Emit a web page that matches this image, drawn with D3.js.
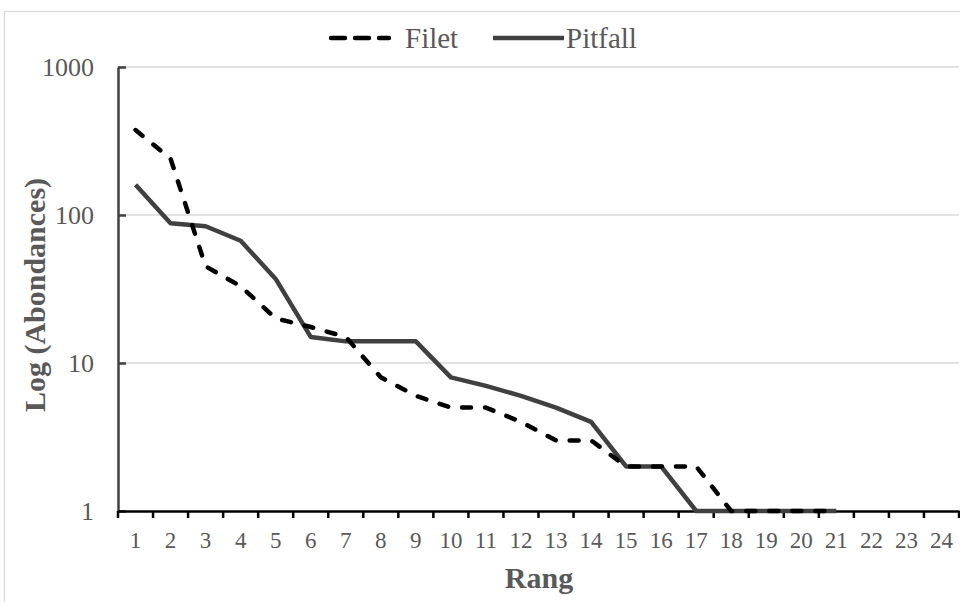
<!DOCTYPE html>
<html><head><meta charset="utf-8">
<script src="https://cdn.jsdelivr.net/npm/d3@7"></script>
<style>
body{margin:0;background:#fff}svg{display:block}
text{font-family:"Liberation Serif","Times New Roman",Times,Tinos,"DejaVu Serif",serif}
</style>
</head><body>
<svg id="c" width="960" height="602"></svg>
<script>
const ranks = d3.range(1, 25).map(String);
const filet = [375, 240, 45, 33, 20, 17.5, 15, 8, 6, 5, 5, 4, 3, 3, 2, 2, 2, 1, 1, 1, 1];
const pitfall = [160, 88, 84, 67, 37, 15, 14, 14, 14, 8, 7, 6, 5, 4, 2, 2, 1, 1, 1, 1, 1];
const yTicks = [1, 10, 100, 1000];
const seriesNames = ["Filet", "Pitfall"];

const svg = d3.select("#c");
const grey = "#595959";

svg.append("rect").attr("x", 4.5).attr("y", 11.5).attr("width", 970).attr("height", 620)
  .attr("fill", "#fff").attr("stroke", "#d9d9d9").attr("stroke-width", 1.3);

const x = d3.scaleBand().domain(ranks).range([118, 959]);
const y = d3.scaleLog().domain([1, 1000]).range([511, 67]);

// gridlines
svg.append("g").selectAll("line").data(yTicks.slice(1)).join("line")
  .attr("x1", 118).attr("x2", 959).attr("y1", d => y(d)).attr("y2", d => y(d))
  .attr("stroke", "#d9d9d9").attr("stroke-width", 1.5);

// y axis
const yAx = svg.append("g").attr("transform", "translate(118,0)")
  .call(d3.axisLeft(y).tickValues(yTicks).tickFormat(d3.format("d")).tickSizeInner(-8).tickSizeOuter(0).tickPadding(24));
yAx.select(".domain").attr("stroke", "#404040").attr("stroke-width", 2.5);
yAx.selectAll(".tick line").attr("stroke", "#404040").attr("stroke-width", 2.5);
yAx.selectAll("text").attr("font-size", 26).attr("fill", grey).attr("dy", "0.33em");

// x axis
const xAx = svg.append("g").attr("transform", "translate(0,511)")
  .call(d3.axisBottom(x).tickSize(0).tickPadding(21));
xAx.select(".domain").attr("stroke", "#000").attr("stroke-width", 2.5);
xAx.selectAll("text").attr("font-size", 23).attr("fill", grey);
// tick marks between categories
const bounds = ranks.map(r => x(r)).concat([x.range()[1]]);
svg.append("g").selectAll("line").data(bounds).join("line")
  .attr("x1", d => d).attr("x2", d => d).attr("y1", 511).attr("y2", 518)
  .attr("stroke", "#000").attr("stroke-width", 2.5);

const cx = i => x(ranks[i]) + x.bandwidth() / 2;
const line = d3.line().x((d, i) => cx(i)).y(d => y(d));

svg.append("path").datum(pitfall).attr("d", line).attr("fill", "none")
  .attr("stroke", "#404040").attr("stroke-width", 4.5).attr("stroke-linejoin", "round");
svg.append("path").datum(filet).attr("d", line).attr("fill", "none")
  .attr("stroke", "#000").attr("stroke-width", 4.5).attr("stroke-dasharray", "9,14")
  .attr("stroke-linecap", "round").attr("stroke-linejoin", "round");

// legend
const lg = svg.append("g");
lg.append("line").attr("x1", 331).attr("x2", 389).attr("y1", 38).attr("y2", 38)
  .attr("stroke", "#000").attr("stroke-width", 4.5).attr("stroke-dasharray", "14,10").attr("stroke-linecap", "round");
lg.append("text").attr("x", 405).attr("y", 48).text(seriesNames[0])
  .attr("font-size", 29).attr("fill", grey);
lg.append("line").attr("x1", 493).attr("x2", 564).attr("y1", 38).attr("y2", 38)
  .attr("stroke", "#404040").attr("stroke-width", 4.5);
lg.append("text").attr("x", 566).attr("y", 48).text(seriesNames[1])
  .attr("font-size", 29).attr("fill", grey);

// axis titles
svg.append("text").attr("x", 539).attr("y", 588).attr("text-anchor", "middle")
  .attr("font-size", 30).attr("font-weight", "bold").attr("fill", grey).text("Rang");
svg.append("text").attr("transform", "translate(45,295) rotate(-90)").attr("text-anchor", "middle")
  .attr("font-size", 30).attr("font-weight", "bold").attr("fill", grey).text("Log (Abondances)");
</script>
</body></html>
